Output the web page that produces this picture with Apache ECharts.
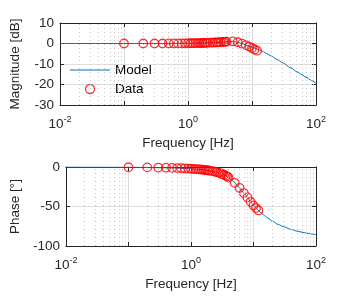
<!DOCTYPE html>
<html>
<head>
<meta charset="utf-8">
<script src="https://cdn.jsdelivr.net/npm/echarts@6/dist/echarts.min.js"></script>
<style>html,body{margin:0;padding:0;background:#fff}#c{width:350px;height:300px}</style>
</head>
<body>
<div id="c"></div>
<script>
// ---- data ----
const dataFreq  = [0.1,0.2,0.3,0.4,0.5,0.6,0.7,0.8,0.9,1.0,
                   1.1,1.2,1.3,1.4,1.5,1.6,1.7,1.8,1.9,2.0,
                   2.2,2.4,2.6,2.8,3.0,3.2,3.4,3.6,3.8,4.0,
                   5,6,7,8,9,10,11,12];
const dataMag   = [0,0,0,0,0.02,0.03,0.05,0.06,0.08,0.1,
                   0.12,0.14,0.16,0.18,0.2,0.22,0.24,0.27,0.3,0.33,
                   0.38,0.43,0.48,0.53,0.58,0.64,0.7,0.76,0.82,0.88,
                   1.0,0.6,-0.1,-0.8,-1.5,-2.2,-2.9,-3.5];
const dataPhase = [-0.3,-0.5,-0.7,-0.9,-1.1,-1.3,-1.5,-1.8,-2.0,-2.2,
                   -2.5,-2.7,-2.9,-3.1,-3.4,-3.6,-3.9,-4.1,-4.4,-4.6,
                   -5.2,-5.9,-6.6,-7.4,-8.2,-9.1,-10.0,-11.0,-12.1,-13.3,
                   -20,-26.5,-33,-38.5,-44,-48.5,-52,-55];
const modelFreq  = [0.01,0.1,0.5,1,1.5,2,2.5,3,3.5,4,4.5,5,5.5,6,7,8,9,10,11,12,13,15,17,20,25,30,40,50,60,70,85,100];
const modelMag   = [0,0,0.02,0.08,0.16,0.3,0.42,0.55,0.68,0.8,0.88,0.9,0.8,0.6,0,-0.7,-1.3,-1.8,-2.3,-2.7,-3.1,-4.0,-4.9,-6.1,-7.9,-9.4,-11.8,-13.7,-15.2,-16.5,-18.1,-19.4];
const modelPhase = [-0.03,-0.25,-1.1,-2.2,-3.4,-4.6,-6.3,-8.2,-10.5,-13.3,-16.5,-20,-23.3,-26.5,-33,-38.5,-43.8,-48.3,-52,-55,-57.5,-61.5,-64.8,-68.5,-72.8,-75.5,-79,-81.2,-82.6,-83.6,-84.8,-85.7];
const seriesNames = ['Model','Data'];
const magLabel = 'Magnitude [dB]';
const phaseLabel = 'Phase [°]';
const freqLabel = 'Frequency [Hz]';
const xDecades = [0.01,0.1,1,10];

// minor (log) grid positions
const minorX = [];
xDecades.forEach(d => { for (let k = 2; k <= 9; k++) minorX.push({xAxis: +(k*d).toPrecision(3)}); });

const FONT = '"Liberation Sans", Arial, Helvetica, sans-serif';
const AX = '#262626';
const zip = (a, b) => a.map((v, i) => [v, b[i]]);

const gridDefs = [
  {left: 55, right: 34, top: 23, height: 82},
  {left: 55, right: 34, top: 167, height: 79}
];

function xMain(gi) {
  return {
    type: 'log', logBase: 10, min: 0.01, max: 100, gridIndex: gi,
    name: freqLabel, nameLocation: 'middle', nameGap: 31,
    nameTextStyle: {fontFamily: FONT, fontSize: 13.5, color: AX},
    axisLine: {show: true, onZero: false, lineStyle: {color: AX, width: 1}},
    axisTick: {show: true, inside: true, length: 4, lineStyle: {color: AX}},
    axisLabel: {
      margin: 10, color: AX, fontFamily: FONT,
      formatter: function (v) {
        const e = Math.round(Math.log10(v));
        if (e % 2 !== 0) return '';
        return '{b|10}{s|' + e + '}';
      },
      rich: {
        b: {fontSize: 13.5, fontFamily: FONT, color: AX},
        s: {fontSize: 9, fontFamily: FONT, color: AX, padding: [0, 0, 9, 0]}
      }
    },
    splitLine: {show: true, lineStyle: {color: '#dedede', width: 1}},
    minorTick: {show: false}
  };
}
function xTop(gi) {
  return {
    type: 'log', logBase: 10, min: 0.01, max: 100, gridIndex: gi, position: 'top',
    axisLine: {show: true, onZero: false, lineStyle: {color: AX, width: 1}},
    axisTick: {show: true, inside: true, length: 4, lineStyle: {color: AX}},
    axisLabel: {show: false}, splitLine: {show: false}
  };
}
function yMain(gi, min, max, interval, name) {
  return {
    type: 'value', gridIndex: gi, min: min, max: max, interval: interval,
    name: name, nameLocation: 'middle', nameGap: 38,
    nameTextStyle: {fontFamily: FONT, fontSize: 13.5, color: AX},
    axisLine: {show: true, onZero: false, lineStyle: {color: AX, width: 1}},
    axisTick: {show: true, inside: true, length: 4, lineStyle: {color: AX}},
    axisLabel: {fontFamily: FONT, fontSize: 13.5, color: AX, margin: 6},
    splitLine: {show: true, lineStyle: {color: '#dedede', width: 1}}
  };
}
function yRight(gi, min, max, interval) {
  return {
    type: 'value', gridIndex: gi, min: min, max: max, interval: interval, position: 'right',
    axisLine: {show: true, onZero: false, lineStyle: {color: AX, width: 1}},
    axisTick: {show: true, inside: true, length: 4, lineStyle: {color: AX}},
    axisLabel: {show: false}, splitLine: {show: false}
  };
}

const minorMark = {
  silent: true, symbol: 'none', label: {show: false},
  lineStyle: {type: [1, 3], color: '#c4c4c4', width: 1},
  emphasis: {disabled: true},
  animation: false,
  data: minorX
};

function modelSeries(xi, yi, vals, withMark) {
  const s = {
    name: seriesNames[0], type: 'line', xAxisIndex: xi, yAxisIndex: yi,
    data: zip(modelFreq, vals), symbol: 'none', smooth: 0.3, smoothMonotone: 'x',
    lineStyle: {color: '#0072BD', width: 1}, itemStyle: {color: '#0072BD'}, z: 3
  };
  if (withMark) s.markLine = minorMark;
  return s;
}
function dataSeries(xi, yi, vals) {
  return {
    name: seriesNames[1], type: 'scatter', xAxisIndex: xi, yAxisIndex: yi,
    data: zip(dataFreq, vals), symbol: 'circle', symbolSize: 8.5,
    itemStyle: {color: 'rgba(0,0,0,0)', borderColor: '#ff0000', borderWidth: 1.3}, z: 4
  };
}

const chart = echarts.init(document.getElementById('c'), null, {renderer: 'canvas'});
chart.setOption({
  animation: false,
  backgroundColor: '#fff',
  textStyle: {fontFamily: FONT},
  grid: gridDefs,
  xAxis: [xMain(0), xMain(1), xTop(0), xTop(1)],
  yAxis: [yMain(0, -30, 10, 10, magLabel), yMain(1, -100, 0, 50, phaseLabel),
          yRight(0, -30, 10, 10), yRight(1, -100, 0, 50)],
  legend: {
    show: true, orient: 'vertical', left: 70, top: 63, padding: 0,
    itemWidth: 40, itemHeight: 9, itemGap: 5,
    textStyle: {fontFamily: FONT, fontSize: 13.5, color: '#000'},
    data: [
      {name: seriesNames[0], icon: 'path://M0,0 H40 V1 H0 Z', itemStyle: {color: '#0072BD', borderWidth: 0}},
      {name: seriesNames[1], icon: 'circle', itemStyle: {color: 'rgba(0,0,0,0)', borderColor: '#ff0000', borderWidth: 1.3}}
    ],
    selectedMode: false
  },
  series: [
    modelSeries(0, 0, modelMag, true),
    dataSeries(0, 0, dataMag),
    modelSeries(1, 1, modelPhase, true),
    dataSeries(1, 1, dataPhase)
  ]
});
</script>
</body>
</html>
